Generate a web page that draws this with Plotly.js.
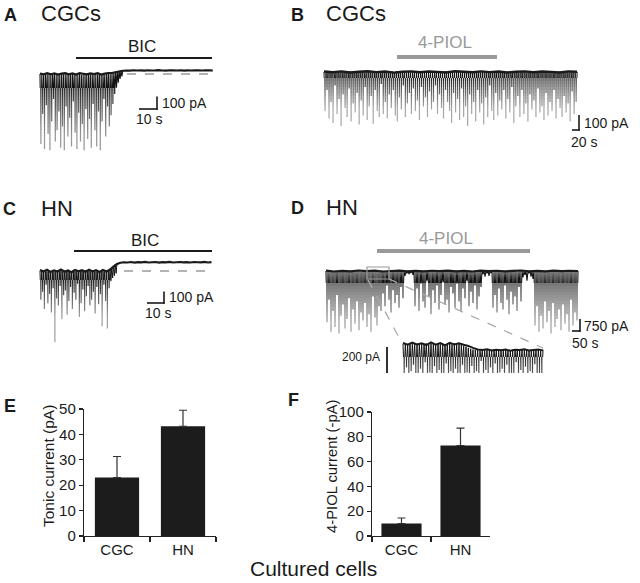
<!DOCTYPE html>
<html><head><meta charset="utf-8">
<script src="https://cdn.plot.ly/plotly-3.0.1.min.js"></script>
<style>html,body{margin:0;padding:0;background:#fff;}#chart{width:640px;height:583px;}</style>
</head><body><div id="chart"></div>
<script>
// ---------------- DATA ----------------
// Panel A: CGC recording, BIC application (pA samples: holding level / event peak alternating)
const aCurrent = [
0,-560,4,-320,-2,-600,6,-250,1,-480,-3,-610,5,-380,0,-200,3,-540,-4,-450,
2,-300,6,-590,-1,-420,4,-610,0,-260,5,-500,-3,-350,2,-580,6,-220,-2,-470,
3,-600,0,-310,5,-540,-4,-400,2,-610,6,-280,-1,-520,3,-360,0,-590,5,-240,
-2,-450,4,-580,1,-300,6,-610,-3,-380,3,-200,0,-500,5,-260,8,-420,10,-330,
14,-240,18,-160,21,-110,24,-70,26,-40,27,-20,28];
const aDt = 0.5;
const aHolding = [4,-3,6,-2,5,-4,3,7,-2,4,-5,6,2,-3,5,-1,6,-4,3,8,
8,14,20,26,28,
27,30,28,29,27,30,28,29,31,28,27,30,29,28,30,27,29,28,30,29,28,30,29,28];
const aHoldDt = 2;

// Panel B: CGC recording, 4-PIOL application
const bCurrent = [
0,-260,3,-120,-2,-310,4,-200,0,-340,-3,-90,2,-280,5,-180,-1,-360,3,-150,0,-240,-4,-300,2,-110,4,-330,-2,-210,1,-270,3,-140,-3,-350,
2,-190,0,-290,4,-100,-2,-320,3,-230,0,-160,-3,-345,5,-120,1,-260,-2,-300,3,-80,0,-280,4,-200,-1,-310,2,-150,-3,-240,3,-120,0,-290,
4,-330,-2,-170,1,-250,3,-90,-1,-300,5,-210,0,-140,-3,-280,2,-110,4,-260,-2,-190,1,-320,3,-100,-1,-230,0,-170,4,-300,-2,-130,2,-250,
0,-200,3,-90,-2,-280,4,-150,1,-240,-3,-310,2,-120,5,-200,-1,-260,3,-340,0,-140,-4,-270,2,-180,4,-320,-2,-110,1,-300,3,-230,-3,-360,
2,-150,0,-280,4,-200,-2,-330,3,-120,0,-270,-3,-210,5,-350,1,-170,-2,-300,3,-90,0,-260,4,-320,-1,-140,2,-290,-3,-190,3,-250,0,-120,
4,-310,-2,-180,1,-270,3,-100,-1,-340,5,-230,0,-160,-3,-300,2,-120,4,-280,-2,-210,1,-330,3,-150,-1,-250,0,-190,4,-300,-2,-110,2,-270,
0,-230,3,-320,-2,-140,4,-290,1,-200,-3,-260,2,-120,5,-310,-1,-180,3,-240,0,-300,-4,-160,2,-270,4,-210,-2,-330,1,-130,3,-280,-3,-200,0];
const bDt = 2.87;
const bHolding = [3,-2,4,-3,2,5,-1,3,-4,2,4,-2,3,0,-3,5,2,-2,4,-1,3,-3,2,4,-2,3,1,-3,4,2];
const bHoldDt = 24.93;

// Panel C: hippocampal neuron, BIC application
const cCurrent = [
0,-250,6,-180,-5,-330,8,-120,-3,-280,5,-200,-6,-360,7,-150,0,-620,-4,-240,
6,-300,-2,-130,8,-420,-5,-210,4,-170,-7,-380,6,-260,0,-140,-4,-330,7,-190,
-3,-250,5,-110,-6,-400,8,-280,2,-160,-5,-350,6,-220,-2,-130,4,-300,-6,-250,
7,-180,0,-370,-4,-140,5,-290,-3,-200,8,-480,-2,-120,4,-260,6,-500,10,-150,
20,-90,32,-60,45,-40,58,-20,68];
const cDt = 0.5;
const cHolding = [8,-5,10,-8,6,-4,12,-6,5,-10,9,-3,7,-7,11,-5,6,-9,8,-4,
12,38,62,72,76,
74,78,73,77,75,79,74,76,78,73,77,75,79,74,76,78,75,77,74,78,76,75,79,74,77];
const cHoldDt = 2;

// Panel D: hippocampal neuron, 4-PIOL application
const dCurrent = [
0,-3200,20,-1800,-30,-3800,10,-2500,-20,-3500,30,-1500,0,-3900,-10,-2800,20,-2100,-30,-3600,10,-3000,0,-1700,-20,-3800,30,-2400,-10,-3300,20,-1900,0,-3700,-30,-2600,10,-3100,-20,-2000,30,-3500,0,-2700,-10,-3800,20,-1600,-30,-2900,10,-3400,0,-2200,
-20,-2500,30,-1400,0,-2200,-10,-900,20,-1800,-30,-2600,10,-1200,0,-2000,-20,-1500,30,-2300,-10,-1000,20,-1700,
0,-300,-30,-150,10,-200,-20,-100,30,-250,
0,-2200,-10,-1100,20,-2500,-30,-800,10,-1900,0,-2300,-20,-600,30,-1600,-10,-2700,20,-1200,-30,-2000,10,-900,0,-2400,-20,-1500,30,-700,-10,-2100,20,-1800,-30,-2600,10,-1000,0,-1400,-20,-2300,30,-800,-10,-1900,20,-2500,-30,-1100,10,-1700,0,-600,-20,-2200,30,-1300,-10,-2000,20,-900,-30,-2400,10,-1600,0,-1000,
-20,-200,30,-350,-10,-150,20,-300,-30,-100,
10,-2300,0,-1500,-20,-2600,30,-1100,-10,-2000,20,-2400,-30,-900,10,-1800,0,-2700,-20,-1300,30,-2100,-10,-1600,20,-2500,-30,-1000,10,-1900,
0,-400,-20,-250,30,-600,-10,-150,20,-350,-30,-500,
10,-3400,0,-2200,-20,-3800,30,-2800,-10,-3600,20,-1900,-30,-3200,10,-2500,0,-3900,-20,-2000,30,-3500,-10,-3000,20,-2400,-30,-3700,10,-2100,0,-3300,-20,-2700,30,-3800,-10,-1800,20,-3400,-30,-2600,10,-3100,0];
const dDt = 6.25;
const dHolding = [20,-30,10,-20,30,-10,20,-30,0,25,-15,10,-25,15,-5,20,-20,10,-30,25,-10,15,-20,5,30,-15,10,-25,20,-10,15,0];
const dHoldDt = 50.8;

// Panel D inset (expanded segment starting at 256 s)
const insetStart = 256;
const insetCurrent = [
0,-240,6,-180,-4,-250,8,-210,-2,-160,5,-245,-6,-230,3,-190,7,-250,-3,-140,
4,-235,-5,-220,6,-250,0,-170,-4,-240,8,-200,-2,-250,5,-230,-6,-150,3,-245,
7,-210,-3,-250,4,-190,-5,-235,0,-250,-8,-160,-14,-240,-22,-220,
-30,-250,-37,-170,-43,-240,-46,-210,-40,-250,-50,-130,-44,-235,-48,-200,-42,-250,-52,-180,
-45,-245,-39,-150,-47,-250,-53,-220,-43,-190,-49,-250,-41,-160,-46,-240,-51,-230,-44,-250,
-48,-140,-42,-245,-50,-200,-45,-250,-39,-175,-47,-240,-53,-210,-44,-250,-49,-155,-42,-245,
-46,-230,-50,-250,-45];
const insetDt = 1.15;
const insetHolding = [8,-6,10,-4,6,-8,12,-5,7,-10,9,-3,5,-6,-15,-30,-42,-46,-40,-50,-44,-48,-42,-52,-45,-47,-41,-50,-46,-43,-49];
const insetHoldDt = 4.6;

// Panels E, F: bar charts
const cellTypes = ['CGC','HN'];
const tonicMean = [23, 43.2];
const tonicSem = [8.3, 6.3];
const piolMean = [10, 73];
const piolSem = [4.5, 14];

// ---------------- LAYOUT HELPERS ----------------
const W = 640, H = 583;
const FONT = 'Liberation Sans, Arial, Helvetica, sans-serif';
const INK = '#1a1a1a';
const px = x => x / W;
const py = y => 1 - y / H;
const traces = [];
const layout = {
  width: W, height: H, margin: {l:0, r:0, t:0, b:0},
  paper_bgcolor: '#fff', plot_bgcolor: 'rgba(0,0,0,0)', showlegend: false, barmode: 'overlay',
  font: {family: FONT, color: INK}, shapes: [], annotations: []
};
let axN = 0;
function addAxes(box, xr, yr, xextra, yextra) {
  axN++;
  const s = axN === 1 ? '' : String(axN);
  layout['xaxis' + s] = Object.assign({domain: [px(box[0]), px(box[1])], range: xr, visible: false, fixedrange: true, anchor: 'y' + s}, xextra || {});
  layout['yaxis' + s] = Object.assign({domain: [py(box[3]), py(box[2])], range: yr, visible: false, fixedrange: true, anchor: 'x' + s}, yextra || {});
  return {x: 'x' + s, y: 'y' + s};
}
const times = (arr, t0, dt) => arr.map((v, k) => t0 + k * dt);

// Shading: depth (px below baseline) -> grey level, so the dense region near the
// baseline reads dark and the isolated deep events read light grey.
function gradBands(top, dk, lt, maxD, light, step) {
  const bands = [[top, dk, 'rgb(20,20,20)']];
  for (let d = dk; d < maxD; d += step) {
    const f = Math.min(1, Math.max(0, (d + step / 2 - dk) / (lt - dk)));
    const l = Math.round(30 + (light - 30) * Math.pow(f, 0.85));
    bands.push([d, Math.min(d + step, maxD), 'rgb(' + l + ',' + l + ',' + l + ')']);
  }
  return bands;
}

// Each recording is drawn through stacked, non-overlapping horizontal bands.
// The top band draws the sampled trace as a line; deeper bands draw each event
// peak as a thin drop from its preceding holding sample.
function tracePanel(sp) {
  const xr = [(sp.x0 - sp.t0px) / sp.pxPerS, (sp.x1 - sp.t0px) / sp.pxPerS];
  const tAll = times(sp.cur, sp.tStart, sp.dt);
  const pk = [], pkT = [], pkBase = [];
  sp.cur.forEach((v, k) => { if (k % 2 === 1) { pkT.push(tAll[k]); pkBase.push(sp.cur[k - 1]); pk.push(v - sp.cur[k - 1]); } });
  sp.bands.forEach((b, i) => {
    const y0 = sp.basePx + b[0], y1 = sp.basePx + b[1];
    const ax = addAxes([sp.x0, sp.x1, y0, y1], xr,
      [(sp.basePx - y1) / sp.pxPerPa, (sp.basePx - y0) / sp.pxPerPa]);
    if (i === 0) {
      traces.push({type: 'scatter', mode: 'lines', x: tAll, y: sp.cur,
        xaxis: ax.x, yaxis: ax.y, line: {color: b[2], width: sp.w, simplify: false}, hoverinfo: 'skip'});
      traces.push({type: 'scatter', mode: 'lines', x: times(sp.hold, sp.tStart, sp.holdDt), y: sp.hold,
        xaxis: ax.x, yaxis: ax.y, line: {color: INK, width: sp.hw, simplify: false}, hoverinfo: 'skip'});
    } else {
      traces.push({type: 'bar', x: pkT, y: pk, base: pkBase, width: sp.bw,
        xaxis: ax.x, yaxis: ax.y, marker: {color: b[2], line: {width: 0}}, hoverinfo: 'skip'});
    }
  });
}
function seg(x0, y0, x1, y1, color, width, dash) {
  layout.shapes.push({type: 'line', xref: 'paper', yref: 'paper', x0: px(x0), y0: py(y0), x1: px(x1), y1: py(y1),
    line: {color: color, width: width, dash: dash || 'solid'}});
}
function txt(s, x, y, opt) {
  const o = Object.assign({size: 14, color: INK, xanchor: 'left', bold: false}, opt || {});
  layout.annotations.push({text: o.bold ? '<b>' + s + '</b>' : s, x: px(x), y: py(y), xref: 'paper', yref: 'paper',
    showarrow: false, xanchor: o.xanchor, yanchor: 'middle', textangle: o.angle || 0, borderpad: 0,
    font: {family: FONT, size: o.size, color: o.color}});
}

// ---------------- PANEL A ----------------
tracePanel({x0: 38, x1: 216, t0px: 40, pxPerS: 1.8, basePx: 74, pxPerPa: 0.125,
  cur: aCurrent, tStart: 0, dt: aDt, hold: aHolding, holdDt: aHoldDt, w: 1.1, hw: 2.2, bw: 0.7,
  bands: gradBands(-14, 14, 62, 84, 152, 3)});
seg(76, 58, 212, 58, INK, 2);
seg(127, 74, 212, 74, '#9a9a9a', 1.3, 'dash');
seg(139, 109, 157.7, 109, INK, 1.6);
seg(157, 109.7, 157, 96.5, INK, 1.6);
txt('A', 3, 15, {size: 18, bold: true});
txt('CGCs', 40, 14, {size: 22});
txt('BIC', 142, 46, {size: 17, xanchor: 'center'});
txt('100 pA', 161, 103, {size: 14});
txt('10 s', 135, 119, {size: 14});

// ---------------- PANEL B ----------------
tracePanel({x0: 322, x1: 580, t0px: 324, pxPerS: 0.35, basePx: 72, pxPerPa: 0.15,
  cur: bCurrent, tStart: 0, dt: bDt, hold: bHolding, holdDt: bHoldDt, w: 1.0, hw: 2.4, bw: 3.5,
  bands: gradBands(-10, 6, 36, 58, 168, 3)});
seg(397, 57, 497, 57, '#999', 4);
seg(572, 130, 579.7, 130, INK, 1.6);
seg(579, 130.7, 579, 115, INK, 1.6);
txt('B', 290, 15, {size: 18, bold: true});
txt('CGCs', 325, 14, {size: 22});
txt('4-PIOL', 445, 43, {size: 17, xanchor: 'center', color: '#999'});
txt('100 pA', 583, 123, {size: 14});
txt('20 s', 570, 142, {size: 14});

// ---------------- PANEL C ----------------
tracePanel({x0: 38, x1: 216, t0px: 40, pxPerS: 1.75, basePx: 271, pxPerPa: 0.115,
  cur: cCurrent, tStart: 0, dt: cDt, hold: cHolding, holdDt: cHoldDt, w: 1.0, hw: 2.2, bw: 0.7,
  bands: gradBands(-16, 9, 46, 79, 160, 3)});
seg(74, 251, 212, 251, INK, 2);
seg(124, 271, 212, 271, '#9a9a9a', 1.3, 'dash');
seg(147, 303, 164.7, 303, INK, 1.6);
seg(164, 303.7, 164, 291.5, INK, 1.6);
txt('C', 2, 209, {size: 18, bold: true});
txt('HN', 40, 208, {size: 22});
txt('BIC', 145, 240, {size: 17, xanchor: 'center'});
txt('100 pA', 168, 297, {size: 14});
txt('10 s', 144, 313, {size: 14});

// ---------------- PANEL D ----------------
tracePanel({x0: 324, x1: 580, t0px: 326, pxPerS: 0.16, basePx: 271, pxPerPa: 0.016,
  cur: dCurrent, tStart: 0, dt: dDt, hold: dHolding, holdDt: dHoldDt, w: 1.1, hw: 2.2, bw: 7.8,
  bands: gradBands(-9, 12, 52, 65, 160, 3)});
seg(377, 251, 530, 251, '#999', 4);
layout.shapes.push({type: 'rect', xref: 'paper', yref: 'paper', x0: px(367), x1: px(389), y0: py(279), y1: py(267),
  line: {color: '#9a9a9a', width: 1.2}, fillcolor: 'rgba(0,0,0,0)'});
seg(368, 280, 402, 343, '#aaa', 1.3, 'dash');
seg(389, 279, 543, 348, '#aaa', 1.3, 'dash');
seg(572, 331, 580.7, 331, INK, 1.6);
seg(580, 331.7, 580, 319, INK, 1.6);
txt('D', 290, 208, {size: 18, bold: true});
txt('HN', 325, 207, {size: 22});
txt('4-PIOL', 446, 239, {size: 17, xanchor: 'center', color: '#999'});
txt('750 pA', 583, 326, {size: 14});
txt('50 s', 571, 343, {size: 14});
// inset
const insetPxPerS = 140 / 138;
tracePanel({x0: 401, x1: 545, t0px: 403 - insetStart * insetPxPerS, pxPerS: insetPxPerS, basePx: 344, pxPerPa: 0.13,
  cur: insetCurrent, tStart: insetStart, dt: insetDt, hold: insetHolding, holdDt: insetHoldDt, w: 1.0, hw: 2, bw: 1.2,
  bands: gradBands(-8, 13, 32, 29, 100, 3)});
seg(387, 347, 387, 373, INK, 1.8);
txt('200 pA', 381, 357, {size: 12, xanchor: 'right'});

// ---------------- PANEL E ----------------
const barX = {type: 'category', range: [-0.5, 1.5], tickson: 'boundaries', ticks: 'outside', ticklen: 5, tickwidth: 1.2,
  tickcolor: '#222', showline: true, linecolor: '#222', linewidth: 1.2, showgrid: false, zeroline: false,
  tickfont: {family: FONT, size: 15, color: INK}, visible: true};
const barY = {ticks: 'outside', ticklen: 4, tickwidth: 1.2, tickcolor: '#222', showline: true, linecolor: '#222',
  linewidth: 1.2, showgrid: false, zeroline: false, tickfont: {family: FONT, size: 15, color: INK}, visible: true};
const axE = addAxes([84, 216, 409, 536], [-0.5, 1.5], [0, 50], barX, Object.assign({dtick: 10, tick0: 0}, barY));
traces.push({type: 'bar', x: cellTypes, y: tonicMean, xaxis: axE.x, yaxis: axE.y, width: 0.67,
  marker: {color: '#1c1c1c', line: {width: 0}},
  error_y: {type: 'data', symmetric: false, array: tonicSem, arrayminus: [0, 0], color: '#333', thickness: 1.2, width: 4}});
txt('E', 3, 406, {size: 18, bold: true});
txt('Tonic current (pA)', 48, 466, {size: 15.5, xanchor: 'center', angle: -90});

// ---------------- PANEL F ----------------
const axF = addAxes([372, 490, 412, 536], [-0.5, 1.5], [0, 100], barX, Object.assign({dtick: 20, tick0: 0}, barY));
traces.push({type: 'bar', x: cellTypes, y: piolMean, xaxis: axF.x, yaxis: axF.y, width: 0.68,
  marker: {color: '#1c1c1c', line: {width: 0}},
  error_y: {type: 'data', symmetric: false, array: piolSem, arrayminus: [0, 0], color: '#333', thickness: 1.2, width: 4}});
txt('F', 287, 400, {size: 18, bold: true});
txt('4-PIOL current (-pA)', 332, 466, {size: 14.8, xanchor: 'center', angle: -90});

txt('Cultured cells', 313, 568, {size: 21, xanchor: 'center'});

Plotly.newPlot('chart', traces, layout, {staticPlot: true, displayModeBar: false});
</script>
</body></html>
